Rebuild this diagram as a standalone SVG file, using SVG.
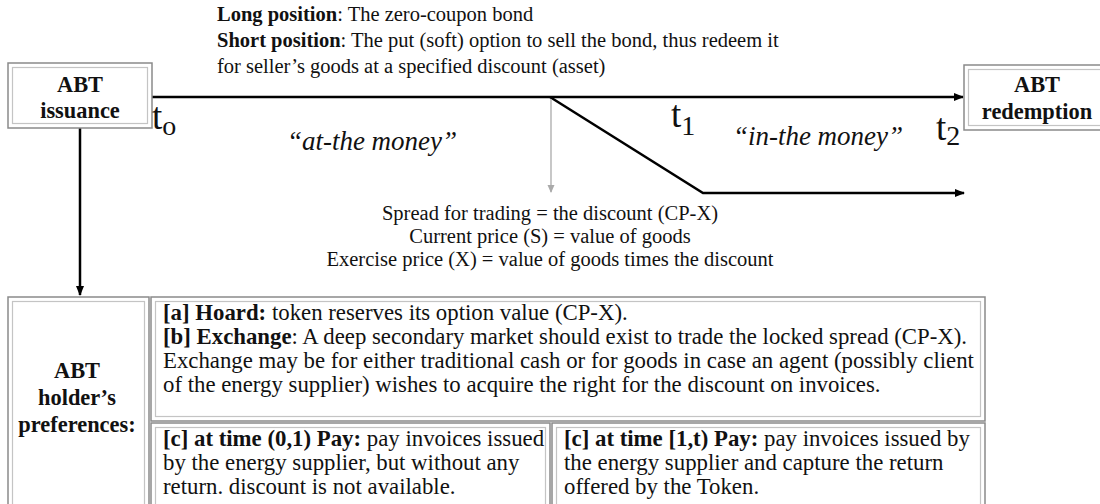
<svg xmlns="http://www.w3.org/2000/svg" width="1100" height="504" viewBox="0 0 1100 504">
<style>
text{font-family:"Liberation Serif","Times New Roman",serif;fill:#111}
.b{font-weight:bold}
.box{fill:#fff;stroke:#8a8a8a;stroke-width:1.5}
.inner{fill:none;stroke:#c4c4c4;stroke-width:1.2}
.top{font-size:20.5px}
.tbl{font-size:22.8px}
.mid{font-size:20.5px}
.it{font-size:27px;font-style:italic}
.t{font-size:37px}
.sub{font-size:28px}
.hd{font-size:22.4px;font-weight:bold}
.ln{stroke:#000;stroke-width:2.5;fill:none}
</style>
<defs>
<marker id="ah" markerWidth="10" markerHeight="10" refX="9" refY="5" orient="auto" markerUnits="userSpaceOnUse">
<path d="M0,1 L10,5 L0,9 z" fill="#000"/>
</marker>
<marker id="ahg" markerWidth="8" markerHeight="8" refX="7" refY="4" orient="auto" markerUnits="userSpaceOnUse">
<path d="M0,0.5 L8,4 L0,7.5 z" fill="#aaa"/>
</marker>
</defs>

<g id="header-text">
<text class="top" x="217" y="21"><tspan class="b">Long position</tspan>: The zero-coupon bond</text>
<text class="top" x="217" y="47"><tspan class="b">Short position</tspan>: The put (soft) option to sell the bond, thus redeem it</text>
<text class="top" x="217" y="73">for seller’s goods at a specified discount (asset)</text>
</g>

<g id="connectors">
<line class="ln" x1="152" y1="97" x2="963" y2="97" marker-end="url(#ah)"/>
<polyline class="ln" points="550,97 703,193 964,193" marker-end="url(#ah)"/>
<line x1="551" y1="99" x2="551" y2="192" stroke="#aaa" stroke-width="1.3" marker-end="url(#ahg)"/>
<line class="ln" x1="80" y1="128" x2="80" y2="295" marker-end="url(#ah)"/>
</g>

<g id="node-issuance">
<rect class="box" x="8" y="63" width="144" height="65"/>
<rect class="inner" x="12.5" y="67.5" width="135" height="56"/>
<text class="hd" x="80" y="92" text-anchor="middle">ABT</text>
<text class="hd" x="80" y="118" text-anchor="middle">issuance</text>
</g>

<g id="node-redemption">
<rect class="box" x="964" y="65" width="140" height="65"/>
<rect class="inner" x="968.5" y="69.5" width="135" height="56"/>
<text class="hd" x="1037" y="92" text-anchor="middle">ABT</text>
<text class="hd" x="1037" y="119" text-anchor="middle">redemption</text>
</g>

<g id="time-labels">
<text class="t" x="152" y="129">t<tspan class="sub" dy="6">o</tspan></text>
<text class="t" x="671" y="127">t<tspan class="sub" dy="8">1</tspan></text>
<text class="t" x="936" y="140">t<tspan class="sub" dy="5">2</tspan></text>
<text class="it" x="372" y="150" text-anchor="middle">“at-the money”</text>
<text class="it" x="818" y="145" text-anchor="middle">“in-the money”</text>
</g>

<g id="spread-text">
<text class="mid" x="550" y="220" text-anchor="middle">Spread for trading = the discount (CP-X)</text>
<text class="mid" x="550" y="243" text-anchor="middle">Current price (S) = value of goods</text>
<text class="mid" x="550" y="266" text-anchor="middle">Exercise price (X) = value of goods times the discount</text>
</g>

<g id="cell-holder">
<rect class="box" x="8" y="297" width="141" height="210"/>
<rect class="inner" x="12.5" y="301.5" width="132" height="210"/>
<text class="hd" x="77" y="378" text-anchor="middle">ABT</text>
<text class="hd" x="77" y="405" text-anchor="middle">holder’s</text>
<text class="hd" x="77" y="432" text-anchor="middle">preferences:</text>
</g>

<g id="cell-hoard-exchange">
<rect class="box" x="151" y="297" width="834" height="124"/>
<rect class="inner" x="155.5" y="301.5" width="825" height="115"/>
<text class="tbl" x="163" y="320"><tspan class="b">[a] Hoard:</tspan> token reserves its option value (CP-X).</text>
<text class="tbl" x="163" y="344"><tspan class="b">[b] Exchange</tspan>: A deep secondary market should exist to trade the locked spread (CP-X).</text>
<text class="tbl" x="163" y="368">Exchange may be for either traditional cash or for goods in case an agent (possibly client</text>
<text class="tbl" x="163" y="392">of the energy supplier) wishes to acquire the right for the discount on invoices.</text>
</g>

<g id="cell-pay-01">
<rect class="box" x="151" y="423" width="399" height="84"/>
<rect class="inner" x="155.5" y="427.5" width="390" height="80"/>
<text class="tbl" x="163" y="446"><tspan class="b">[c] at time (0,1) Pay:</tspan> pay invoices issued</text>
<text class="tbl" x="163" y="470">by the energy supplier, but without any</text>
<text class="tbl" x="163" y="494">return. discount is not available.</text>
</g>

<g id="cell-pay-1t">
<rect class="box" x="552" y="423" width="433" height="84"/>
<rect class="inner" x="556.5" y="427.5" width="424" height="80"/>
<text class="tbl" x="564" y="446"><tspan class="b">[c] at time [1,t) Pay:</tspan> pay invoices issued by</text>
<text class="tbl" x="564" y="470">the energy supplier and capture the return</text>
<text class="tbl" x="564" y="494">offered by the Token.</text>
</g>
</svg>
